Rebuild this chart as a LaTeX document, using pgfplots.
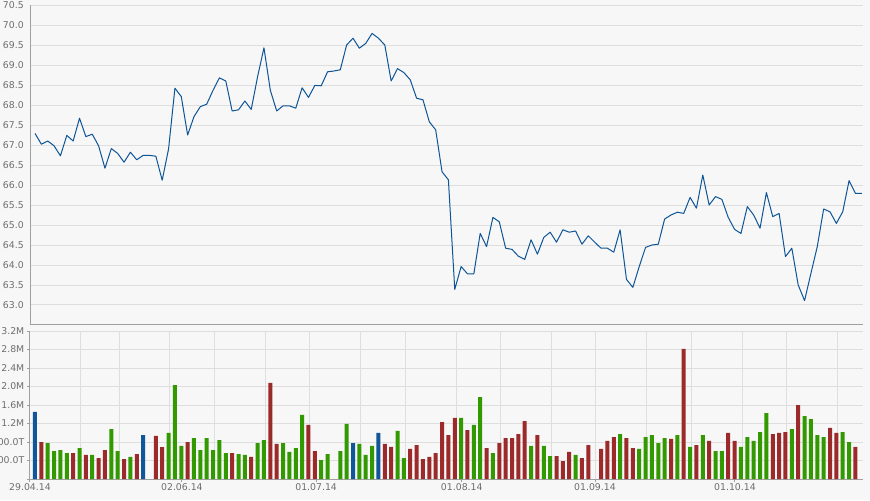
\documentclass[border=0pt]{standalone}
\usepackage{fontspec}
\setmainfont{DejaVu Sans}
\usepackage{pgfplots}
\pgfplotsset{compat=1.18}

\definecolor{bg}{HTML}{F7F7F7}
\definecolor{gridc}{HTML}{DEDEDE}
\definecolor{axisc}{HTML}{A0A0A0}
\definecolor{labc}{HTML}{6E6E6E}
\definecolor{priceblue}{HTML}{0E5597}
\definecolor{volgreen}{HTML}{339900}
\definecolor{volred}{HTML}{9C2A2A}
\definecolor{volblue}{HTML}{0F5799}

\pgfplotsset{
  panel/.style={
    scale only axis, width=624.75pt,
    xmin=-0.786, xmax=130.19,
    axis x line*=bottom, axis y line*=left,
    axis line style={axisc, line width=0.75pt, -},
    grid style={gridc, line width=0.75pt},
    minor grid style={gridc, line width=0.75pt},
    minor xtick={7.12,13.32,21.12,28.19,36.21,43.13,51.15,58.22,66.24,73.16,81.18,88.1,96.12,103.19,111.21,118.13,126.15},
    xminorgrids=true, ymajorgrids=true,
    minor tick length=0pt,
    tick align=outside,
    tick style={axisc, line width=0.75pt},
    ticklabel style={font=\fontsize{7}{8}\selectfont, text=labc},
    /pgf/number format/assume math mode=true,
  },
}

\begin{document}
\begin{tikzpicture}
\path[use as bounding box, fill=bg] (0,0) rectangle (652.5pt,375pt);

% price
\begin{axis}[panel, at={(22.5pt,131.25pt)}, anchor=south west,
  height=240pt,
  ymin=62.5, ymax=70.5,
  ytick={63,63.5,64,64.5,65,65.5,66,66.5,67,67.5,68,68.5,69,69.5,70,70.5},
  yticklabel style={/pgf/number format/fixed, /pgf/number format/fixed zerofill,
    /pgf/number format/precision=1, anchor=east, inner sep=0pt, xshift=-4.5pt},
  major tick length=0pt,
  xtick=\empty,
]
\addplot[priceblue, line width=0.75pt, line join=round, mark=none] coordinates {
(0,67.29)(1,67.02)(2,67.10)(3,66.98)(4,66.73)(5,67.24)(6,67.10)(7,67.67)(8,67.21)(9,67.27)
(10,66.98)(11,66.42)(12,66.91)(13,66.79)(14,66.57)(15,66.82)(16,66.63)(17,66.74)(18,66.74)(19,66.72)
(20,66.12)(21,66.90)(22,68.42)(23,68.21)(24,67.25)(25,67.71)(26,67.96)(27,68.02)(28,68.37)(29,68.68)
(30,68.60)(31,67.85)(32,67.88)(33,68.10)(34,67.89)(35,68.71)(36,69.43)(37,68.37)(38,67.85)(39,67.98)
(40,67.98)(41,67.92)(42,68.43)(43,68.19)(44,68.49)(45,68.48)(46,68.83)(47,68.85)(48,68.88)(49,69.50)
(50,69.67)(51,69.42)(52,69.54)(53,69.79)(54,69.67)(55,69.50)(56,68.60)(57,68.91)(58,68.81)(59,68.63)
(60,68.17)(61,68.13)(62,67.58)(63,67.38)(64,66.33)(65,66.13)(66,63.39)(67,63.96)(68,63.78)(69,63.78)
(70,64.79)(71,64.46)(72,65.19)(73,65.08)(74,64.42)(75,64.39)(76,64.22)(77,64.14)(78,64.63)(79,64.27)
(80,64.69)(81,64.82)(82,64.57)(83,64.88)(84,64.82)(85,64.85)(86,64.52)(87,64.73)(88,64.57)(89,64.42)
(90,64.42)(91,64.32)(92,64.88)(93,63.64)(94,63.44)(95,63.96)(96,64.44)(97,64.50)(98,64.52)(99,65.15)
(100,65.25)(101,65.32)(102,65.29)(103,65.69)(104,65.42)(105,66.25)(106,65.50)(107,65.71)(108,65.64)(109,65.19)
(110,64.89)(111,64.79)(112,65.46)(113,65.25)(114,64.92)(115,65.81)(116,65.21)(117,65.29)(118,64.21)(119,64.42)
(120,63.50)(121,63.11)(122,63.79)(123,64.46)(124,65.40)(125,65.33)(126,65.04)(127,65.33)(128,66.11)(129,65.79)
(130,65.79)
};
\end{axis}

% volume
\begin{axis}[panel, at={(22.5pt,15.75pt)}, anchor=south west,
  height=111pt,
  ymin=0, ymax=3.2,
  ytick={0,0.4,0.8,1.2,1.6,2.0,2.4,2.8,3.2},
  yticklabels={,400.0T,800.0T,1.2M,1.6M,2.0M,2.4M,2.8M,3.2M},
  yticklabel style={anchor=east, inner sep=0pt, xshift=-1.5pt},
  major tick length=2.6pt,
  xtick={-0.786,23.1,44.2,67.1,88.05,110.06},
  xticklabels={29.04.14,02.06.14,01.07.14,01.08.14,01.09.14,01.10.14},
  xticklabel style={anchor=north, inner sep=0pt, yshift=-1pt},
]
\addplot[ybar, bar width=3pt, bar shift=0pt, fill=volgreen, draw=none] coordinates {
(2,0.778)(3,0.605)(4,0.627)(5,0.562)(7,0.670)(9,0.519)(12,1.081)(13,0.605)(15,0.476)(21,0.995)
(22,2.030)(23,0.714)(25,0.886)(26,0.627)(27,0.886)(28,0.627)(29,0.843)(30,0.562)(32,0.540)(33,0.519)
(35,0.778)(36,0.843)(39,0.778)(40,0.584)(41,0.670)(42,1.384)(45,0.410)(46,0.540)(48,0.605)(49,1.190)
(51,0.757)(52,0.519)(53,0.714)(57,1.038)(58,0.454)(67,1.319)(69,1.168)(70,1.773)(72,0.562)(78,0.714)
(80,0.714)(81,0.497)(85,0.519)(92,0.973)(95,0.649)(96,0.908)(97,0.951)(98,0.778)(99,0.886)(101,0.951)
(103,0.692)(105,0.951)(107,0.605)(108,0.605)(111,0.692)(112,0.908)(113,0.822)(114,1.016)(115,1.427)(119,1.081)
(121,1.362)(122,1.297)(123,0.951)(124,0.908)(127,1.016)(128,0.800)
};
\addplot[ybar, bar width=3pt, bar shift=0pt, fill=volred, draw=none] coordinates {
(1,0.800)(6,0.562)(8,0.519)(10,0.454)(11,0.627)(14,0.432)(16,0.540)(19,0.930)(20,0.690)(24,0.800)
(31,0.562)(34,0.476)(37,2.076)(38,0.757)(43,1.168)(44,0.605)(55,0.757)(56,0.692)(59,0.649)(60,0.735)
(61,0.432)(62,0.476)(63,0.562)(64,1.232)(65,0.951)(66,1.319)(68,1.059)(71,0.670)(73,0.778)(74,0.886)
(75,0.886)(76,0.973)(77,1.254)(79,0.951)(82,0.497)(83,0.389)(84,0.584)(86,0.454)(87,0.735)(89,0.649)
(90,0.822)(91,0.908)(93,0.886)(94,0.670)(100,0.865)(102,2.811)(104,0.735)(106,0.822)(109,0.995)(110,0.822)
(116,0.973)(117,0.995)(118,1.016)(120,1.600)(125,1.103)(126,0.995)(129,0.692)
};
\addplot[ybar, bar width=3pt, bar shift=0pt, fill=volblue, draw=none] coordinates {
(0,1.449)(17,0.951)(50,0.778)(54,0.995)
};
\end{axis}
\end{tikzpicture}
\end{document}
